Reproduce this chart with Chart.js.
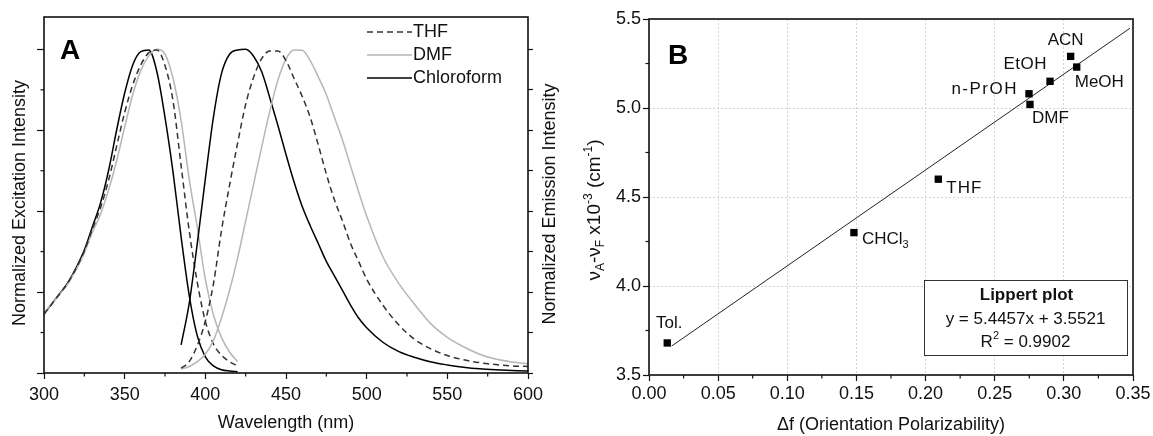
<!DOCTYPE html>
<html>
<head>
<meta charset="utf-8">
<script src="https://cdn.jsdelivr.net/npm/chart.js@4.4.1/dist/chart.umd.min.js"></script>
<style>
html,body{margin:0;padding:0;background:#fff;}
#wrap{position:relative;width:1153px;height:436px;overflow:hidden;background:#fff;}
#cA{position:absolute;left:0;top:0;}
#cB{position:absolute;left:576px;top:0;}
</style>
</head>
<body>
<div id="wrap">
<canvas id="cA" width="576" height="436"></canvas>
<canvas id="cB" width="577" height="436"></canvas>
</div>
<script>
// ---------------- Panel A data (normalized spectra) ----------------
const exWavelength = [300,305,310,315,320,325,330,335,340,345,350,355,360,365,370,375,380,385,390,395,400,405,410,415,420];
const exChloroform = [0.182,0.215,0.247,0.281,0.326,0.380,0.452,0.525,0.625,0.750,0.865,0.952,0.993,0.998,0.930,0.790,0.620,0.420,0.240,0.115,0.050,0.022,0.010,0.006,0.004];
const exTHF        = [0.182,0.214,0.246,0.280,0.324,0.377,0.445,0.510,0.595,0.700,0.805,0.890,0.952,0.990,0.998,0.950,0.840,0.640,0.440,0.280,0.160,0.090,0.055,0.035,0.022];
const exDMF        = [0.184,0.216,0.245,0.277,0.320,0.370,0.435,0.490,0.565,0.655,0.760,0.860,0.935,0.980,1.000,0.985,0.910,0.780,0.600,0.450,0.290,0.180,0.110,0.065,0.035];

const emWavelength = [385,390,395,400,405,410,415,420,425,430,435,440,445,450,455,460,465,470,475,480,485,490,495,500,510,520,530,540,550,560,570,580,590,600];
const emChloroform = [0.087,0.215,0.400,0.600,0.790,0.925,0.985,0.998,1.000,0.978,0.930,0.850,0.765,0.675,0.590,0.515,0.455,0.400,0.345,0.300,0.255,0.210,0.170,0.140,0.095,0.066,0.048,0.034,0.025,0.018,0.013,0.010,0.008,0.006];
const emTHF        = [0.015,0.035,0.085,0.160,0.275,0.440,0.580,0.710,0.830,0.915,0.972,0.995,0.995,0.965,0.910,0.855,0.790,0.705,0.615,0.535,0.470,0.400,0.345,0.290,0.210,0.148,0.103,0.074,0.054,0.041,0.032,0.026,0.022,0.020];
const emDMF        = [0.012,0.020,0.035,0.058,0.100,0.170,0.255,0.355,0.470,0.585,0.700,0.810,0.905,0.970,0.998,0.997,0.965,0.915,0.860,0.790,0.720,0.640,0.560,0.485,0.360,0.276,0.210,0.151,0.110,0.081,0.058,0.043,0.034,0.028];

const wlTicks = [300,350,400,450,500,550,600];
const wlMinorTicks = [325,375,425,475,525,575];
const exIntensityTicks = [0,0.25,0.5,0.75,1.0];
const exIntensityMinorTicks = [0.125,0.375,0.625,0.875];
const emIntensityTicks = [0,0.125,0.25,0.375,0.5,0.625,0.75,0.875,1.0];

// ---------------- Panel B data (Lippert plot) ----------------
const solventLabels = ['Tol.','CHCl_{3}','THF','n-PrOH','DMF','EtOH','ACN','MeOH'];
const orientationPolarizability = [0.0132,0.1482,0.2092,0.2748,0.2755,0.2900,0.3049,0.3093];
const stokesShift = [3.68,4.30,4.60,5.08,5.02,5.15,5.29,5.23];
const fitDeltaF = [0.0164,0.3478];
const fitShift = [3.663,5.448];
const lippertText = ['Lippert plot','y = 5.4457x + 3.5521','R^{2} = 0.9902'];

const dfTicks = [0,0.05,0.10,0.15,0.20,0.25,0.30,0.35];
const dfMinorTicks = [0.025,0.075,0.125,0.175,0.225,0.275,0.325];
const shiftTicks = [3.5,4.0,4.5,5.0,5.5];
const shiftMinorTicks = [3.75,4.25,4.75,5.25];

// ---------------- styling ----------------
const FONT = "'Liberation Sans', Arial, Helvetica, sans-serif";
const INK = '#111';
Chart.defaults.font.family = FONT;
Chart.defaults.font.size = 18;
Chart.defaults.color = INK;

const styleTHF = {color:'#333', dash:[6,4]};
const styleDMF = {color:'#b6b6b6', dash:[]};
const styleChl = {color:'#000', dash:[]};

// label placement (pixel offsets from each point) - styling only
const labelPlacement = [
  {dx:2, dy:-20, align:'center', spacing:0},
  {dx:8, dy:7, align:'left', spacing:0},
  {dx:8, dy:9, align:'left', spacing:1},
  {dx:-11, dy:-4, align:'right', spacing:1.5},
  {dx:2, dy:14, align:'left', spacing:0},
  {dx:-3, dy:-17, align:'right', spacing:0.5},
  {dx:-5, dy:-16, align:'center', spacing:0},
  {dx:-2, dy:15, align:'left', spacing:0}
];

function toXY(xs, ys){ return xs.map((x,i)=>({x:x, y:ys[i]})); }
function seg(ctx,x1,y1,x2,y2){ ctx.beginPath(); ctx.moveTo(x1,y1); ctx.lineTo(x2,y2); ctx.stroke(); }
function richSegments(s){
  const out=[]; const re=/([_^])\{([^}]*)\}/g; let last=0, m;
  while((m=re.exec(s))){ if(m.index>last) out.push({t:s.slice(last,m.index),k:''}); out.push({t:m[2],k:m[1]}); last=re.lastIndex; }
  if(last<s.length) out.push({t:s.slice(last),k:''});
  return out;
}
function drawRich(ctx, s, x, y, size, align, weight, spacing){
  const segs = richSegments(s);
  const small = Math.round(size*0.64);
  const w8 = weight ? weight+' ' : '';
  if ('letterSpacing' in ctx) ctx.letterSpacing = (spacing||0)+'px';
  let w = 0;
  segs.forEach(g=>{ ctx.font = w8+(g.k?small:size)+'px '+FONT; g.w = ctx.measureText(g.t).width; w += g.w; });
  let cx = align==='center' ? x - w/2 : (align==='right' ? x - w : x);
  ctx.textAlign='left'; ctx.textBaseline='middle';
  segs.forEach(g=>{
    ctx.font = w8+(g.k?small:size)+'px '+FONT;
    const dy = g.k==='_' ? size*0.32 : (g.k==='^' ? -size*0.33 : 0);
    ctx.fillText(g.t, cx, y+dy); cx += g.w;
  });
  if ('letterSpacing' in ctx) ctx.letterSpacing = '0px';
}
function setTicks(list){ return function(scale){ scale.ticks = list.map(v=>({value:v})); }; }

// ---------------- Panel A ----------------
function spectrum(label, xs, ys, st, axis, inLegend){
  return {label, data:toXY(xs,ys), borderColor:st.color, borderDash:st.dash, borderWidth:1.5,
    pointRadius:0, fill:false, cubicInterpolationMode:'monotone', yAxisID:axis, inLegend:inLegend};
}

const decorA = {
  id:'decorA',
  afterDraw(chart){
    const {ctx, chartArea:ca, scales} = chart;
    ctx.save();
    ctx.strokeStyle = INK; ctx.lineWidth = 1.6; ctx.setLineDash([]);
    ctx.strokeRect(ca.left, ca.top, ca.right-ca.left, ca.bottom-ca.top);
    ctx.lineWidth = 1.2;
    wlMinorTicks.forEach(v=>{ const p = scales.x.getPixelForValue(v); seg(ctx,p,ca.bottom,p,ca.bottom+3.5); });
    exIntensityMinorTicks.forEach(v=>{ const p = scales.y.getPixelForValue(v); seg(ctx,ca.left-3.5,p,ca.left,p); });
    // legend
    const items = chart.data.datasets.filter(d=>d.inLegend);
    const lx0 = ca.left + 323, lx1 = ca.left + 368, ly0 = ca.top + 15, lstep = 23;
    items.forEach((d,i)=>{
      const y = ly0 + i*lstep;
      ctx.strokeStyle = d.borderColor; ctx.lineWidth = 1.5; ctx.setLineDash(d.borderDash||[]);
      seg(ctx,lx0,y,lx1,y);
      ctx.setLineDash([]);
      ctx.fillStyle = INK; ctx.font = '18px '+FONT; ctx.textAlign='left'; ctx.textBaseline='middle';
      ctx.fillText(d.label, lx1+1, y);
    });
    // panel letter
    ctx.fillStyle = '#000'; ctx.font = 'bold 28px '+FONT; ctx.textAlign='left'; ctx.textBaseline='alphabetic';
    ctx.fillText('A', 60, 59);
    // axis titles (both read bottom-to-top)
    ctx.fillStyle = INK; ctx.font = '18px '+FONT; ctx.textAlign='center'; ctx.textBaseline='middle';
    ctx.save(); ctx.translate(20, 203); ctx.rotate(-Math.PI/2); ctx.fillText('Normalized Excitation Intensity', 0, 0); ctx.restore();
    ctx.save(); ctx.translate(550, 204); ctx.rotate(-Math.PI/2); ctx.fillText('Normalized Emission Intensity', 0, 0); ctx.restore();
    ctx.restore();
  }
};

new Chart(document.getElementById('cA'), {
  type:'line',
  data:{datasets:[
    spectrum('THF', emWavelength, emTHF, styleTHF, 'y2', true),
    spectrum('DMF', emWavelength, emDMF, styleDMF, 'y2', true),
    spectrum('Chloroform', emWavelength, emChloroform, styleChl, 'y2', true),
    spectrum('THF excitation', exWavelength, exTHF, styleTHF, 'y', false),
    spectrum('DMF excitation', exWavelength, exDMF, styleDMF, 'y', false),
    spectrum('Chloroform excitation', exWavelength, exChloroform, styleChl, 'y', false)
  ]},
  options:{
    responsive:false, animation:false, events:[],
    layout:{padding:{top:17,left:0,right:0,bottom:0}},
    plugins:{legend:{display:false}, tooltip:{enabled:false}},
    scales:{
      x:{type:'linear', position:'bottom', min:300, max:600,
        afterBuildTicks:setTicks(wlTicks),
        afterFit(s){ s.height = 63; },
        ticks:{font:{size:18}, padding:5, color:INK, maxRotation:0, autoSkip:false},
        grid:{drawOnChartArea:false, drawTicks:true, tickLength:6, tickColor:INK, tickWidth:1.2},
        border:{display:false},
        title:{display:true, text:'Wavelength (nm)', font:{size:18}, color:INK, padding:{top:0,bottom:2}}
      },
      y:{type:'linear', position:'left', min:0, max:1.1,
        afterBuildTicks:setTicks(exIntensityTicks),
        afterFit(s){ s.width = 44; },
        ticks:{display:false},
        grid:{drawOnChartArea:false, drawTicks:true, tickLength:7, tickColor:INK, tickWidth:1.2},
        border:{display:false}
      },
      y2:{type:'linear', position:'right', min:0, max:1.1,
        afterBuildTicks:setTicks(emIntensityTicks),
        afterFit(s){ s.width = 48; },
        ticks:{display:false},
        grid:{drawOnChartArea:false, drawTicks:true, tickLength:5, tickColor:INK, tickWidth:1.2},
        border:{display:false}
      }
    }
  },
  plugins:[decorA]
});

// ---------------- Panel B ----------------
const decorB = {
  id:'decorB',
  afterDraw(chart){
    const {ctx, chartArea:ca, scales} = chart;
    ctx.save();
    ctx.strokeStyle = INK; ctx.lineWidth = 1.6; ctx.setLineDash([]);
    ctx.strokeRect(ca.left, ca.top, ca.right-ca.left, ca.bottom-ca.top);
    ctx.lineWidth = 1.2;
    dfMinorTicks.forEach(v=>{ const p = scales.x.getPixelForValue(v); seg(ctx,p,ca.bottom,p,ca.bottom+3.5); });
    shiftMinorTicks.forEach(v=>{ const p = scales.y.getPixelForValue(v); seg(ctx,ca.left-3.5,p,ca.left,p); });
    // point labels
    ctx.fillStyle = INK;
    solventLabels.forEach((lab,i)=>{
      const px = scales.x.getPixelForValue(orientationPolarizability[i]);
      const py = scales.y.getPixelForValue(stokesShift[i]);
      const pl = labelPlacement[i];
      drawRich(ctx, lab, px+pl.dx, py+pl.dy, 17, pl.align, '', pl.spacing);
    });
    // Lippert box
    const bw = 203, bh = 75;
    const bx = ca.right - 6 - bw, by = ca.bottom - 20 - bh;
    ctx.fillStyle = '#fff'; ctx.fillRect(bx, by, bw, bh);
    ctx.strokeStyle = '#333'; ctx.lineWidth = 1; ctx.strokeRect(bx+0.5, by+0.5, bw, bh);
    ctx.fillStyle = INK;
    const cx = bx + bw/2;
    drawRich(ctx, lippertText[0], cx+1, by+15, 17, 'center', 'bold');
    drawRich(ctx, lippertText[1], cx, by+39, 17, 'center');
    drawRich(ctx, lippertText[2], cx, by+62, 17, 'center');
    // panel letter
    ctx.fillStyle = '#000'; ctx.font = 'bold 28px '+FONT; ctx.textAlign='left'; ctx.textBaseline='alphabetic';
    ctx.fillText('B', 92, 64);
    // y title
    ctx.fillStyle = INK;
    ctx.save(); ctx.translate(19, 210); ctx.rotate(-Math.PI/2);
    drawRich(ctx, '\u03BD_{A}-\u03BD_{F} x10^{-3} (cm^{-1})', 0, 0, 19, 'center');
    ctx.restore();
    ctx.restore();
  }
};

new Chart(document.getElementById('cB'), {
  type:'scatter',
  data:{datasets:[
    {label:'Stokes shift', data:toXY(orientationPolarizability, stokesShift), pointStyle:'rect', pointRadius:5.2,
      backgroundColor:'#000', borderColor:'#000', borderWidth:0, showLine:false},
    {label:'Lippert fit', data:toXY(fitDeltaF, fitShift), showLine:true, pointRadius:0,
      borderColor:'#222', borderWidth:1, fill:false}
  ]},
  options:{
    responsive:false, animation:false, events:[],
    layout:{padding:{top:19,left:0,right:20,bottom:0}},
    plugins:{legend:{display:false}, tooltip:{enabled:false}},
    scales:{
      x:{type:'linear', position:'bottom', min:0, max:0.35,
        afterBuildTicks:setTicks(dfTicks),
        afterFit(s){ s.height = 61; },
        ticks:{font:{size:18}, padding:2, color:INK, maxRotation:0, autoSkip:false, callback:v=>Number(v).toFixed(2)},
        grid:{display:true, drawOnChartArea:true, color:'#d4d4d4', lineWidth:1, drawTicks:true, tickLength:6, tickColor:INK, tickWidth:1.2, tickBorderDash:[]},
        border:{display:false, dash:[2,2]},
        title:{display:true, text:'\u0394f (Orientation Polarizability)', font:{size:18}, color:INK, padding:{top:0,bottom:0}}
      },
      y:{type:'linear', position:'left', min:3.5, max:5.5,
        afterBuildTicks:setTicks(shiftTicks),
        afterFit(s){ s.width = 73; },
        ticks:{font:{size:18}, padding:2, color:INK, callback:v=>Number(v).toFixed(1)},
        grid:{display:true, drawOnChartArea:true, color:'#d4d4d4', lineWidth:1, drawTicks:true, tickLength:6, tickColor:INK, tickWidth:1.2, tickBorderDash:[]},
        border:{display:false, dash:[2,2]}
      }
    }
  },
  plugins:[decorB]
});
</script>
</body>
</html>
